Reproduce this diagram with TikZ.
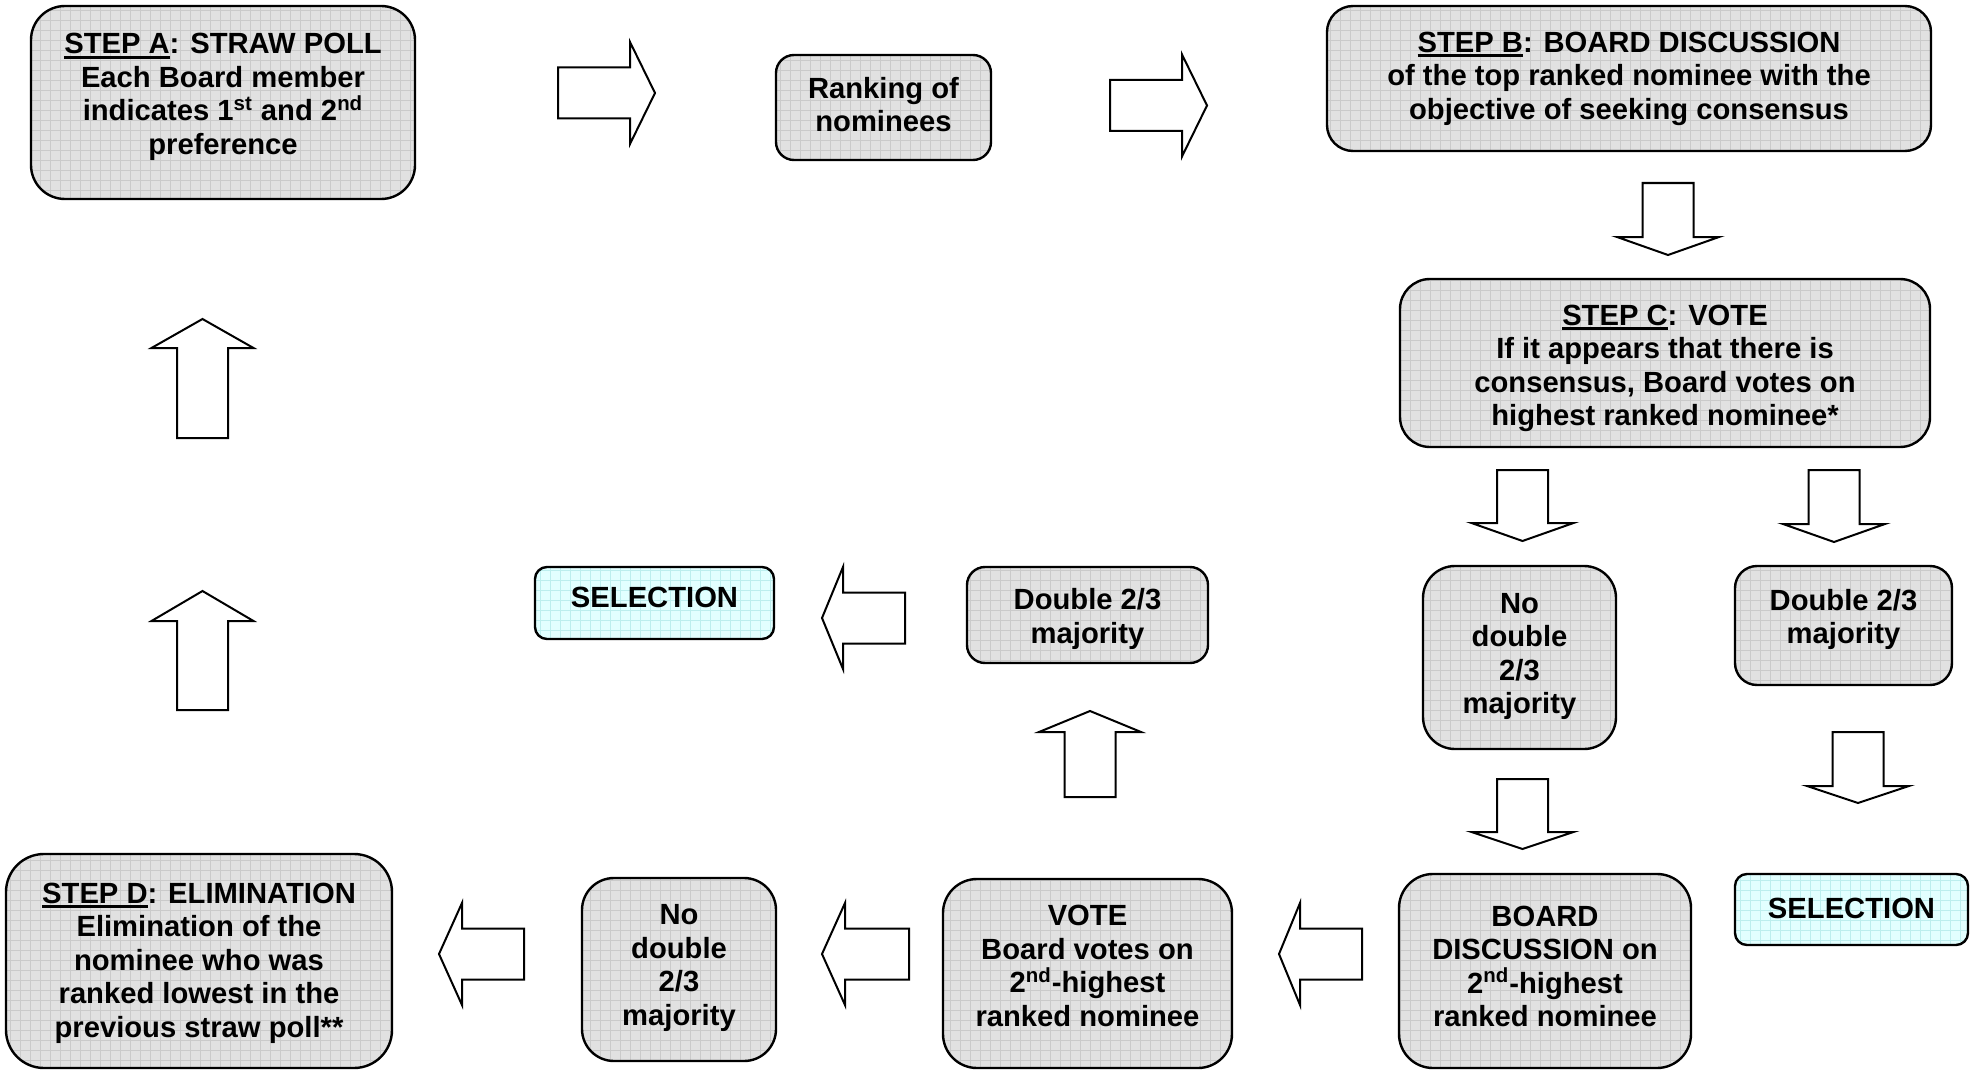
\documentclass[tikz,border=0pt]{standalone}
\usepackage{fontspec}
\setmainfont{Liberation Sans}
\usetikzlibrary{patterns.meta}

\definecolor{boxgray}{HTML}{E1E1E1}
\definecolor{gridgray}{HTML}{CACACA}
\definecolor{selcyan}{HTML}{E2FFFF}
\definecolor{gridcyan}{HTML}{BCEEEE}

% 下線（太め）
\newcommand{\stepline}[1]{\setbox0=\hbox{#1}\rlap{\rule[-2.4pt]{\wd0}{1.4pt}}\box0}

\tikzset{
  box/.style={draw, line width=1.2pt, align=center, inner sep=0pt, text depth=0pt,
    preaction={fill=boxgray},
    preaction={pattern={Lines[distance=5pt, line width=0.4pt]}, pattern color=gridgray},
    preaction={pattern={Lines[angle=90, distance=5pt, line width=0.4pt]}, pattern color=gridgray}},
  selbox/.style={draw, line width=1.2pt, align=center, inner sep=0pt, text depth=0pt,
    preaction={fill=selcyan},
    preaction={pattern={Lines[distance=5pt, line width=0.4pt]}, pattern color=gridcyan},
    preaction={pattern={Lines[angle=90, distance=5pt, line width=0.4pt]}, pattern color=gridcyan}},
  arrowline/.style={draw, line width=1pt, fill=white, line join=miter},
  pics/barrow/.style 2 args={code={
    \draw[arrowline] (0,-25.5) -- ({#1-#2},-25.5) -- ({#1-#2},-51) -- (#1,0)
      -- ({#1-#2},51) -- ({#1-#2},25.5) -- (0,25.5) -- cycle;
  }}
}

\begin{document}
\begin{tikzpicture}[x=0.5pt, y=-0.5pt, font=\bfseries\fontsize{14.6}{16.75}\selectfont]
  \useasboundingbox (0,0) rectangle (1971,1070);

  % ボックス
  \node[box, rounded corners=17pt, minimum width=192pt, minimum height=96.5pt, text height=52pt] (stepA) at (223,102.5)
    {\stepline{STEP A}: STRAW POLL\\Each Board member\\indicates 1\textsuperscript{st} and 2\textsuperscript{nd}\\preference};
  \node[box, rounded corners=9pt, minimum width=107.5pt, minimum height=52.5pt, text height=24.2pt] (rank) at (883.5,107.5)
    {Ranking of\\nominees};
  \node[box, rounded corners=13pt, minimum width=302pt, minimum height=72.5pt, text height=40.9pt] (stepB) at (1629,78.5)
    {\stepline{STEP B}: BOARD DISCUSSION\\of the top ranked nominee with the\\objective of seeking consensus};
  \node[box, rounded corners=15pt, minimum width=265pt, minimum height=84pt, text height=62.6pt] (stepC) at (1665,363)
    {\stepline{STEP C}: VOTE\\If it appears that there is\\consensus, Board votes on\\highest ranked nominee*};
  \node[box, rounded corners=16pt, minimum width=96.5pt, minimum height=91.5pt, text height=56.4pt] (noR) at (1519.5,657.5)
    {No\\double\\2/3\\majority};
  \node[box, rounded corners=11pt, minimum width=108.5pt, minimum height=59.5pt, text height=18pt] (dblR) at (1843.5,625.5)
    {Double 2/3\\majority};
  \node[selbox, rounded corners=6pt, minimum width=116.5pt, minimum height=35.5pt, text height=9.2pt] (selR) at (1851.5,909.5)
    {SELECTION};
  \node[box, rounded corners=17pt, minimum width=146pt, minimum height=97pt, text height=55.7pt] (boardD) at (1545,971)
    {BOARD\\DISCUSSION on\\2\textsuperscript{nd}-highest\\ranked nominee};
  \node[box, rounded corners=17pt, minimum width=144.5pt, minimum height=94.5pt, text height=52.5pt] (vote) at (1087.5,973.5)
    {VOTE\\Board votes on\\2\textsuperscript{nd}-highest\\ranked nominee};
  \node[box, rounded corners=9pt, minimum width=120.5pt, minimum height=48pt, text height=28pt] (dblM) at (1087.5,615)
    {Double 2/3\\majority};
  \node[selbox, rounded corners=6pt, minimum width=119.5pt, minimum height=36pt, text height=4.2pt] (selL) at (654.5,603)
    {SELECTION};
  \node[box, rounded corners=16pt, minimum width=97pt, minimum height=91.5pt, text height=55.8pt] (noL) at (679,969.5)
    {No\\double\\2/3\\majority};
  \node[box, rounded corners=19pt, minimum width=193pt, minimum height=107pt, text height=76.2pt] (stepD) at (199,961)
    {\stepline{STEP D}: ELIMINATION\\Elimination of the\\nominee who was\\ranked lowest in the\\previous straw poll**};

  % 矢印
  \pic at (558,93) {barrow={97}{25}};
  \pic at (1110,105.5) {barrow={97}{25}};
  \pic[rotate=-90] at (1668,183) {barrow={72}{18}};
  \pic[rotate=-90] at (1522.5,470) {barrow={71}{18}};
  \pic[rotate=-90] at (1834,470) {barrow={72}{18}};
  \pic[rotate=-90] at (1522.5,779) {barrow={70}{17}};
  \pic[rotate=-90] at (1858,732) {barrow={71}{17}};
  \pic[rotate=180] at (1362,954) {barrow={83}{21}};
  \pic[rotate=180] at (909,954) {barrow={87}{23}};
  \pic[rotate=180] at (524,954) {barrow={85}{23}};
  \pic[rotate=180] at (905,618) {barrow={83}{21}};
  \pic[rotate=90] at (1090,797) {barrow={86}{21}};
  \pic[rotate=90] at (202.5,710) {barrow={119}{30}};
  \pic[rotate=90] at (202.5,438) {barrow={119}{29}};
\end{tikzpicture}
\end{document}
